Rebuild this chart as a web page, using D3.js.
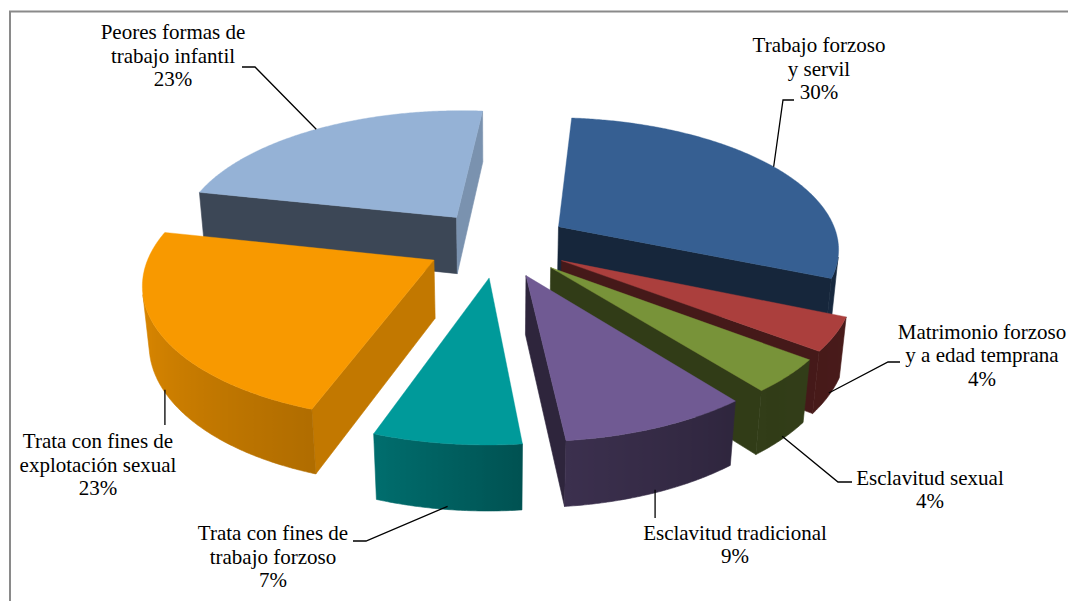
<!DOCTYPE html>
<html><head><meta charset="utf-8">
<script src="https://cdn.jsdelivr.net/npm/d3@7"></script>
<style>html,body{margin:0;padding:0;background:#fff;overflow:hidden}</style>
</head><body>
<svg id="chart" width="1068" height="601"></svg>
<script>
// ---- data ----
const categories = [
  "Trabajo forzoso y servil",
  "Matrimonio forzoso y a edad temprana",
  "Esclavitud sexual",
  "Esclavitud tradicional",
  "Trata con fines de trabajo forzoso",
  "Trata con fines de explotación sexual",
  "Peores formas de trabajo infantil"
];
const values = [30, 4, 4, 9, 7, 23, 23];
const labelLines = [
  ["Trabajo forzoso", "y servil"],
  ["Matrimonio forzoso", "y a edad temprana"],
  ["Esclavitud sexual"],
  ["Esclavitud tradicional"],
  ["Trata con fines de", "trabajo forzoso"],
  ["Trata con fines de", "explotación sexual"],
  ["Peores formas de", "trabajo infantil"]
];
const colors = ["#365F92", "#AB3F3D", "#789339", "#705A93", "#009A9A", "#F89900", "#95B2D6"];

// ---- layout ----
const W = 1068, H = 601;
const view = {cx: 498, cy: 243.5, D: 1650, elev: 27.6, rot: 5};
const R = 281, explode = 72, thick = 66;
const labelLayout = [
  {x: 819, y: 52,    tick: [794, 100, 783, 100]},
  {x: 982, y: 338.5, tick: [900, 362, 888, 362]},
  {x: 930, y: 484.5, tick: [852, 482, 838, 482]},
  {x: 735, y: 539.5, drop: 518},
  {x: 273, y: 540,   tick: [353, 541, 366, 541]},
  {x: 98,  y: 448,   drop: 425},
  {x: 173, y: 39,    tick: [242, 67, 255, 67]}
];
const lineH = 23.6;

const svg = d3.select("#chart");
const defs = svg.append("defs");
svg.append("rect").attr("width", W).attr("height", H).attr("fill", "#fff");
svg.append("rect").attr("x", 10).attr("y", 11.5).attr("width", 1300).attr("height", 800)
  .attr("fill", "none").attr("stroke", "#8a8a8a").attr("stroke-width", 2);

const rad = d => d * Math.PI / 180;
const el = rad(view.elev), ca = Math.cos(el), sa = Math.sin(el), D = view.D, psi = rad(view.rot);
function proj(p) {
  const [x, y, z] = p;
  const up = y * ca + z * sa, dep = z * ca - y * sa, s = D / (D + dep);
  return [view.cx + x * s, view.cy - up * s];
}
const cam = [0, D * sa, -D * ca];
const facing = (n, p) => n[0] * (cam[0] - p[0]) + n[1] * (cam[1] - p[1]) + n[2] * (cam[2] - p[2]) > 0;

const radShade = d3.scaleLinear().domain([90, 110, 190, 270]).range([0.83, 0.78, 0.40, 0.41]).clamp(true);
const curveShade = d3.scaleLinear().domain([100, 140, 174, 199, 240, 280]).range([0.43, 0.41, 0.53, 0.71, 0.84, 0.94]).clamp(true);
const shade = (c, k) => { const b = d3.rgb(c); return d3.rgb(b.r * k, b.g * k, b.b * k).formatHex(); };
const norm = a => ((a % 360) + 360) % 360;

const pie = d3.pie().sort(null).value(d => d).startAngle(0).endAngle(2 * Math.PI);
const arcs = pie(values).map((a, i) => {
  const a0 = a.startAngle + psi, a1 = a.endAngle + psi, m = (a0 + a1) / 2;
  const o = [explode * Math.sin(m), 0, explode * Math.cos(m)];
  const rim = (phi, y) => [o[0] + R * Math.sin(phi), y, o[2] + R * Math.cos(phi)];
  const apex = y => [o[0], y, o[2]];
  const key = o[2] + 0.5 * R * Math.cos(m);
  return {i, a0, a1, m, o, rim, apex, key};
});
arcs.sort((a, b) => b.key - a.key);

const line = d3.line();
const g = svg.append("g");
arcs.forEach(s => {
  const col = colors[s.i];
  const sg = g.append("g");
  // radial faces
  const faces = [
    {phi: s.a0, n: [-Math.cos(s.a0), 0, Math.sin(s.a0)], na: norm(s.a0 * 180 / Math.PI - 90)},
    {phi: s.a1, n: [Math.cos(s.a1), 0, -Math.sin(s.a1)], na: norm(s.a1 * 180 / Math.PI + 90)}
  ];
  faces.forEach(f => {
    if (!facing(f.n, s.apex(0))) return;
    const pts = [s.apex(0), s.rim(f.phi, 0), s.rim(f.phi, -thick), s.apex(-thick)].map(proj);
    const c = shade(col, radShade(f.na));
    sg.append("path").attr("d", line(pts) + "Z").attr("fill", c).attr("stroke", c).attr("stroke-width", 0.6).attr("stroke-linejoin", "round");
  });
  // curved outer face: visible contiguous range, drawn as one path with a gradient
  const step = rad(0.5);
  const n = Math.ceil((s.a1 - s.a0) / step);
  const vis = [];
  for (let k = 0; k <= n; k++) {
    const p = s.a0 + (s.a1 - s.a0) * k / n;
    if (facing([Math.sin(p), 0, Math.cos(p)], s.rim(p, 0))) vis.push(p);
  }
  if (vis.length > 1) {
    const topPts = vis.map(p => proj(s.rim(p, 0)));
    const botPts = vis.map(p => proj(s.rim(p, -thick)));
    const xs = topPts.map(q => q[0]);
    const xmin = d3.min(xs), xmax = d3.max(xs);
    const gid = "cg" + s.i;
    const grad = defs.append("linearGradient").attr("id", gid).attr("gradientUnits", "userSpaceOnUse")
      .attr("x1", xmin).attr("y1", 0).attr("x2", xmax).attr("y2", 0);
    const stops = vis.map((p, k) => ({o: (xs[k] - xmin) / Math.max(1e-6, xmax - xmin), c: shade(col, curveShade(norm(p * 180 / Math.PI)))}))
      .sort((a, b) => a.o - b.o);
    stops.forEach(st => grad.append("stop").attr("offset", st.o).attr("stop-color", st.c));
    const pts = topPts.concat(botPts.slice().reverse());
    sg.append("path").attr("d", line(pts) + "Z").attr("fill", `url(#${gid})`)
      .attr("stroke", `url(#${gid})`).attr("stroke-width", 0.6).attr("stroke-linejoin", "round");
  }
  // top face
  const top = [s.apex(0)];
  for (let k = 0; k <= n; k++) top.push(s.rim(s.a0 + (s.a1 - s.a0) * k / n, 0));
  sg.append("path").attr("d", line(top.map(proj)) + "Z").attr("fill", col).attr("stroke", col).attr("stroke-width", 0.4);
});

// ---- labels and leader lines ----
const total = d3.sum(values);
const pct = d3.format(".0%");
const byIndex = [];
arcs.forEach(s => byIndex[s.i] = s);
const lab = svg.append("g");
values.forEach((v, i) => {
  const s = byIndex[i], L = labelLayout[i];
  const nm = [Math.sin(s.m), 0, Math.cos(s.m)];
  const front = facing(nm, s.rim(s.m, 0));
  const anchor = proj(s.rim(s.m, front ? -thick * 0.95 : 0));
  let pts;
  if (L.tick) pts = [[L.tick[0], L.tick[1]], [L.tick[2], L.tick[3]], anchor];
  else pts = [anchor, [anchor[0], L.drop]];
  lab.append("path").attr("d", line(pts)).attr("fill", "none").attr("stroke", "#000").attr("stroke-width", 1.3);
  const lines = labelLines[i].concat([pct(v / total)]);
  const t = lab.append("text").attr("text-anchor", "middle")
    .style("font-family", "'Liberation Serif','Times New Roman',Times,serif").attr("font-size", 21).attr("fill", "#000");
  lines.forEach((ln, j) => t.append("tspan").attr("x", L.x).attr("y", L.y + j * lineH).text(ln));
});
</script>
</body></html>
